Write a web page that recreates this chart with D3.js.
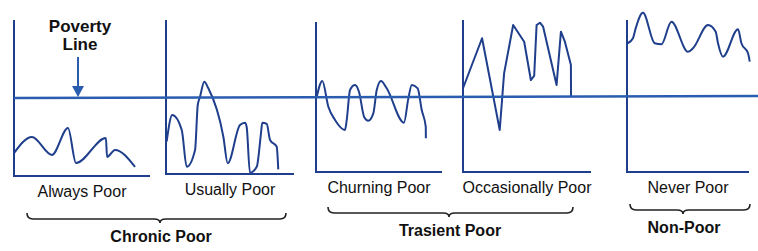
<!DOCTYPE html>
<html>
<head>
<meta charset="utf-8">
<script src="https://cdn.jsdelivr.net/npm/d3@7"></script>
<style>
  body { margin: 0; background: #fff; }
  svg text { font-family: "Liberation Sans", Arial, sans-serif; fill: #111; }
</style>
</head>
<body>
<svg id="chart" width="758" height="251"></svg>
<script>
// Categories and groups
const categories = ["Always Poor", "Usually Poor", "Churning Poor", "Occasionally Poor", "Never Poor"];
const groups = ["Chronic Poor", "Trasient Poor", "Non-Poor"];
const povertyLevel = 50;

// Income paths, [time %, income] (poverty line = 50)
const alwaysPoor = [[0, 14.7], [13.2, 25], [27.9, 13.5], [39.7, 30.8], [45.6, 8.3], [67.6, 24.4],
  [68.4, 12.2], [74.3, 16.7], [89, 5.8]];
const usuallyPoor = [[0.5, 21], [4.9, 38.3], [12.3, 28.6], [16.2, 4.7], [22.7, 15.6], [24.8, 44.8],
  [26.6, 50.2], [29.9, 59.9], [33, 55.8], [44.8, 24.2], [48.2, 7], [57.8, 31.8], [61.7, 33.3],
  [63, 30.7], [65.6, 0.8], [70.9, 4.7], [74.2, 26.4], [75.2, 33.3], [78.7, 32.5], [81.3, 22.1],
  [86.5, 17.7], [87.7, 3]];
const churningPoor = [[0.6, 50.2], [5, 60.7], [9.8, 43.5], [15.1, 34.7], [23, 28], [24.4, 34.7],
  [27, 54.7], [31, 58], [34.1, 53.5], [38.3, 36.5], [41.5, 34.2], [45.5, 39.1], [48.2, 54.7],
  [51.6, 60.7], [56.1, 55.8], [69.8, 32.9], [73.3, 49.1], [76, 58], [80.7, 55.8], [83.9, 41.3],
  [87.1, 30.2], [87.2, 22.5]];
const occasionallyPoor = [[0, 55.1], [14.9, 88], [28.7, 27.6], [32.1, 64.9], [39.2, 96.7],
  [47.8, 85.7], [53, 60.5], [55.6, 63.2], [57.5, 96.7], [60.1, 98.2], [62.6, 95.6], [73.1, 57.2],
  [76.5, 92.3], [79.6, 85.7], [84.3, 70.4], [84.4, 49.5]];
const neverPoor = [[0.6, 84.7], [4.9, 88], [7.1, 94.5], [13.1, 104.8], [22.7, 84.7], [28.2, 84],
  [36.4, 98.9], [50, 79.1], [54.1, 81.4], [66.4, 96.7], [72.7, 92.3], [74.6, 84.7], [78.7, 75.9],
  [91, 93.9], [93.8, 84.7], [99.2, 78.1], [100.6, 72.6]];

const series = [alwaysPoor, usuallyPoor, churningPoor, occasionallyPoor, neverPoor];

// Panel frames (layout only)
const panels = [
  { left: 14,  right: 150, top: 20, bottom: 176, curve: d3.curveMonotoneX },
  { left: 166, right: 294, top: 20, bottom: 174, curve: d3.curveMonotoneX },
  { left: 316, right: 442, top: 22, bottom: 172, curve: d3.curveMonotoneX },
  { left: 463, right: 591, top: 20, bottom: 172, curve: d3.curveLinear },
  { left: 627, right: 749, top: 20, bottom: 172, curve: d3.curveMonotoneX }
];
const brackets = [
  { x0: 27,  x1: 286, y: 219, mid: 160, text: 242 },
  { x0: 328, x1: 573, y: 213, mid: 449, text: 236 },
  { x0: 630, x1: 750, y: 210, mid: 683, text: 233 }
];

const navy = "#1f3f8c",
      blue = "#2a5cb0";

const svg = d3.select("#chart");

panels.forEach((p, i) => {
  let x = d3.scaleLinear().domain([0, 100]).range([p.left, p.right]),
      y = d3.scaleLinear().domain([0, 100]).range([p.bottom, p.top]);
  p.x = x; p.y = y;

  // Axes
  svg.append("path")
      .attr("d", `M${x(0)},${y(100)}V${y(0)}H${x(100)}`)
      .attr("fill", "none")
      .attr("stroke", navy)
      .attr("stroke-width", 2);

  // Income path
  svg.append("path")
      .datum(series[i])
      .attr("fill", "none")
      .attr("stroke", navy)
      .attr("stroke-width", 2)
      .attr("stroke-linejoin", "round")
      .attr("d", d3.line().x(d => x(d[0])).y(d => y(d[1])).curve(p.curve));

  // Category label
  svg.append("text")
      .attr("x", (p.left + p.right) / 2)
      .attr("y", p.bottom + 21)
      .attr("text-anchor", "middle")
      .style("font-size", "16px")
      .text(categories[i]);
});

// Poverty line across all panels
let first = panels[0], last = panels[panels.length - 1];
svg.append("line")
    .attr("x1", first.x(0)).attr("y1", first.y(povertyLevel))
    .attr("x2", 758).attr("y2", last.y(povertyLevel))
    .attr("stroke", blue)
    .attr("stroke-width", 2.5);

// Poverty line callout
svg.append("text")
    .attr("x", 80).attr("y", 32)
    .attr("text-anchor", "middle")
    .style("font-size", "17px").style("font-weight", "bold")
    .text("Poverty");
svg.append("text")
    .attr("x", 80).attr("y", 50)
    .attr("text-anchor", "middle")
    .style("font-size", "17px").style("font-weight", "bold")
    .text("Line");
let arrowTip = first.y(povertyLevel) - 1;
svg.append("line")
    .attr("x1", 78).attr("y1", 57).attr("x2", 78).attr("y2", arrowTip - 8)
    .attr("stroke", blue).attr("stroke-width", 2);
svg.append("path")
    .attr("d", `M72,${arrowTip - 11}L84,${arrowTip - 11}L78,${arrowTip}Z`)
    .attr("fill", blue);

// Group brackets
brackets.forEach((b, i) => {
  let r = 6;
  svg.append("path")
      .attr("d", `M${b.x0},${b.y - r}Q${b.x0},${b.y} ${b.x0 + r},${b.y}` +
                 `H${b.mid - r}Q${b.mid},${b.y} ${b.mid},${b.y + 4}Q${b.mid},${b.y} ${b.mid + r},${b.y}` +
                 `H${b.x1 - r}Q${b.x1},${b.y} ${b.x1},${b.y - r}`)
      .attr("fill", "none")
      .attr("stroke", "#222")
      .attr("stroke-width", 1.6);
  svg.append("text")
      .attr("x", b.mid + 1)
      .attr("y", b.text)
      .attr("text-anchor", "middle")
      .style("font-size", "16px").style("font-weight", "bold")
      .text(groups[i]);
});
</script>
</body>
</html>
